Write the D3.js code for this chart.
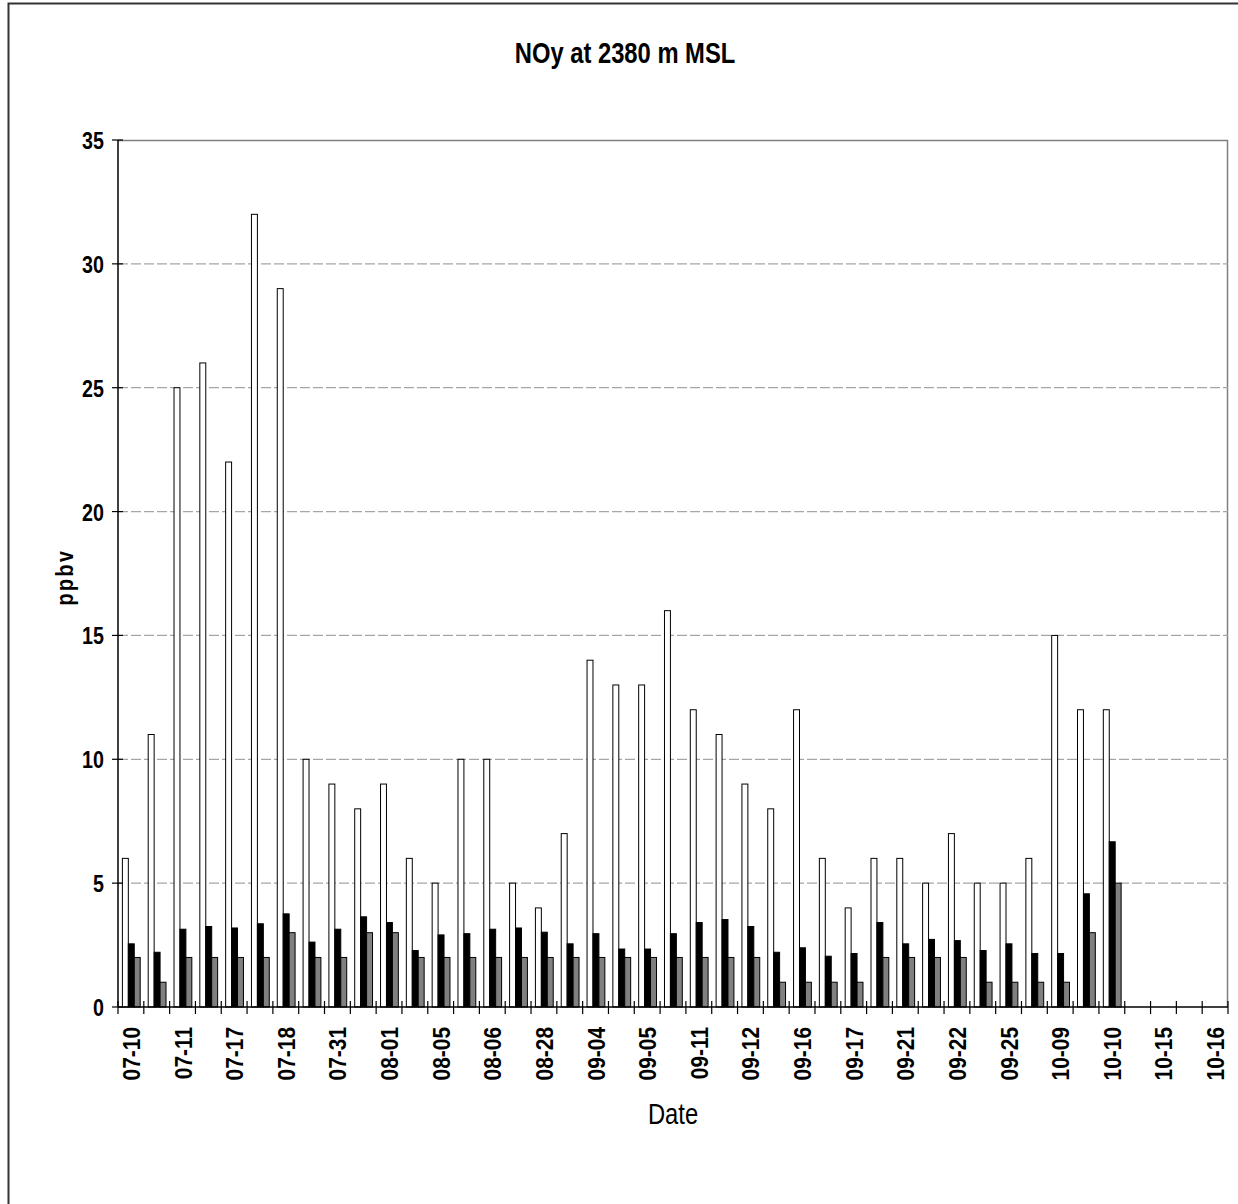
<!DOCTYPE html>
<html>
<head>
<meta charset="utf-8">
<script src="https://cdn.jsdelivr.net/npm/d3@7"></script>
<style>
  body { margin: 0; background: #fff; }
  text { font-family: "Liberation Sans", Arial, sans-serif; }
</style>
</head>
<body>
<div id="chart"></div>
<script>
// tick labels, shown on every other category slot
const tickLabels = ["07-10", "07-11", "07-17", "07-18", "07-31", "08-01", "08-05", "08-06",
    "08-28", "09-04", "09-05", "09-11", "09-12", "09-16", "09-17", "09-21", "09-22", "09-25",
    "10-09", "10-10", "10-15", "10-16"];

const nSlots = 43;

// series values (ppbv), one per slot, null = no data
const maxValues = [6, 11, 25, 26, 22, 32, 29, 10, 9, 8, 9, 6, 5, 10, 10, 5, 4, 7, 14, 13, 13, 16,
    12, 11, 9, 8, 12, 6, 4, 6, 6, 5, 7, 5, 5, 6, 15, 12, 12, null, null, null, null];
const meanValues = [2.55, 2.21, 3.14, 3.25, 3.19, 3.36, 3.76, 2.62, 3.14, 3.64, 3.41, 2.28, 2.91,
    2.96, 3.14, 3.19, 3.02, 2.55, 2.96, 2.34, 2.34, 2.96, 3.41, 3.53, 3.25, 2.21, 2.39, 2.05, 2.16,
    3.41, 2.55, 2.73, 2.68, 2.28, 2.55, 2.16, 2.16, 4.57, 6.67, null, null, null, null];
const minValues = [2, 1, 2, 2, 2, 2, 3, 2, 2, 3, 3, 2, 2, 2, 2, 2, 2, 2, 2, 2, 2, 2, 2, 2, 2, 1, 1,
    1, 1, 2, 2, 2, 2, 1, 1, 1, 1, 3, 5, null, null, null, null];

const yTicks = [0, 5, 10, 15, 20, 25, 30, 35];

const width = 1238, height = 1204;
const plotLeft = 118, plotRight = 1228, plotTop = 140, plotBottom = 1007;

const svg = d3.select("#chart").append("svg")
    .attr("width", width)
    .attr("height", height);

// outer frame
svg.append("rect")
    .attr("x", 8.5).attr("y", 3.5)
    .attr("width", 1300).attr("height", 1300)
    .attr("fill", "none")
    .attr("stroke", "#333")
    .attr("stroke-width", 2);

const x = d3.scaleBand().domain(d3.range(nSlots)).range([plotLeft, plotRight]);
const y = d3.scaleLinear().domain([0, 35]).range([plotBottom, plotTop]);

const seriesNames = ["max", "mean", "min"];
const xInner = d3.scaleBand().domain(seriesNames).range([x.bandwidth() * 0.17, x.bandwidth() * 0.86]);
const fills = { max: "#ffffff", mean: "#000000", min: "#808080" };
const seriesData = { max: maxValues, mean: meanValues, min: minValues };

// plot border top / right
svg.append("path")
    .attr("d", `M${plotLeft},${plotTop + 0.5}H${plotRight - 0.5}V${plotBottom}`)
    .attr("fill", "none")
    .attr("stroke", "#808080")
    .attr("stroke-width", 1.5);

// gridlines
svg.selectAll(".grid")
    .data(yTicks.filter(d => d > 0 && d < 35))
    .join("line")
    .attr("class", "grid")
    .attr("x1", plotLeft).attr("x2", plotRight)
    .attr("y1", d => y(d)).attr("y2", d => y(d))
    .attr("stroke", "#a6a6a6")
    .attr("stroke-width", 1.2)
    .attr("stroke-dasharray", "10,3");

// bars
seriesNames.forEach(name => {
    const rows = seriesData[name].map((v, i) => ({ i, v })).filter(d => d.v != null);
    svg.selectAll(".bar-" + name)
        .data(rows)
        .join("rect")
        .attr("class", "bar-" + name)
        .attr("x", d => x(d.i) + xInner(name))
        .attr("y", d => y(d.v))
        .attr("width", xInner.bandwidth())
        .attr("height", d => y(0) - y(d.v))
        .attr("fill", fills[name])
        .attr("stroke", "#000")
        .attr("stroke-width", 1);
});

// axes lines
svg.append("line")
    .attr("x1", plotLeft).attr("x2", plotLeft)
    .attr("y1", plotTop).attr("y2", plotBottom)
    .attr("stroke", "#000").attr("stroke-width", 1.5);
svg.append("line")
    .attr("x1", plotLeft).attr("x2", plotRight)
    .attr("y1", plotBottom).attr("y2", plotBottom)
    .attr("stroke", "#000").attr("stroke-width", 1.5);

// y ticks
svg.selectAll(".ytick")
    .data(yTicks)
    .join("line")
    .attr("x1", plotLeft - 6).attr("x2", plotLeft + 5)
    .attr("y1", d => y(d)).attr("y2", d => y(d))
    .attr("stroke", "#000").attr("stroke-width", 1.2);

svg.selectAll(".ylabel")
    .data(yTicks)
    .join("text")
    .attr("class", "ylabel")
    .attr("transform", d => `translate(104,${y(d) + 9}) scale(0.82,1)`)
    .attr("text-anchor", "end")
    .attr("font-size", 24)
    .attr("font-weight", "bold")
    .text(d => d);

// x ticks at slot boundaries
svg.selectAll(".xtick")
    .data(d3.range(nSlots + 1))
    .join("line")
    .attr("x1", d => plotLeft + d * x.step()).attr("x2", d => plotLeft + d * x.step())
    .attr("y1", plotBottom - 6).attr("y2", plotBottom + 7)
    .attr("stroke", "#000").attr("stroke-width", 1.2);

svg.selectAll(".xlabel")
    .data(tickLabels)
    .join("text")
    .attr("class", "xlabel")
    .attr("transform", (d, i) => `translate(${x(i * 2) + x.bandwidth() / 2 + 9},1027) rotate(-90) scale(0.87,1)`)
    .attr("text-anchor", "end")
    .attr("font-size", 24)
    .attr("font-weight", "bold")
    .text(d => d);

// title
svg.append("text")
    .attr("transform", "translate(625,63) scale(0.82,1)")
    .attr("text-anchor", "middle")
    .attr("font-size", 29)
    .attr("font-weight", "bold")
    .text("NOy at 2380 m MSL");

// axis titles
svg.append("text")
    .attr("transform", "translate(73,577) rotate(-90) scale(0.82,1)")
    .attr("text-anchor", "middle")
    .attr("font-size", 24)
    .attr("font-weight", "bold")
    .attr("letter-spacing", 3)
    .text("ppbv");

svg.append("text")
    .attr("transform", "translate(673,1124) scale(0.82,1)")
    .attr("text-anchor", "middle")
    .attr("font-size", 29)
    .text("Date");
</script>
</body>
</html>
